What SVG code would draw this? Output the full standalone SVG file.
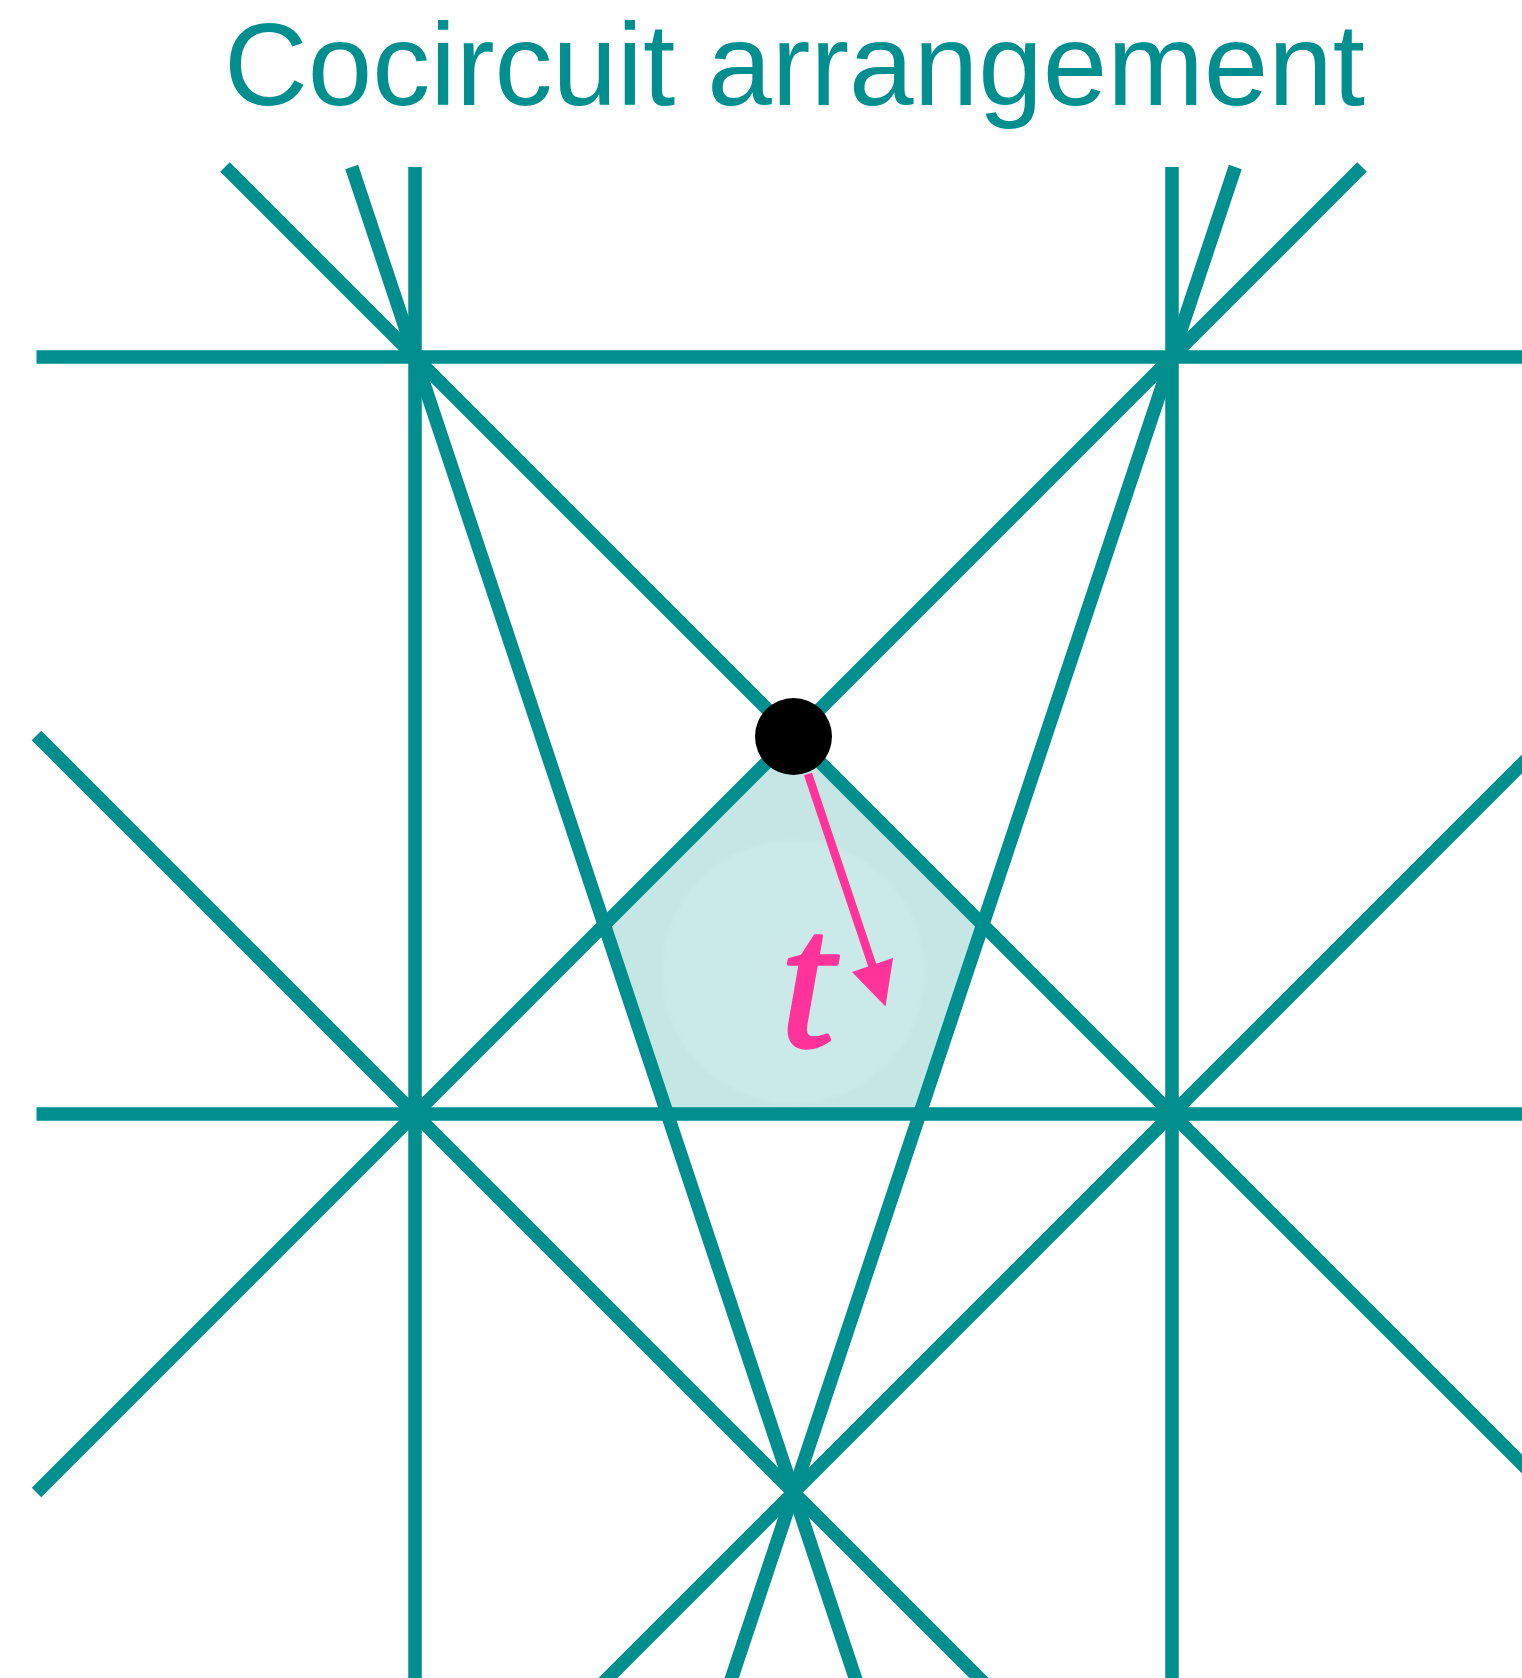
<svg xmlns="http://www.w3.org/2000/svg" width="1522" height="1678" viewBox="0 0 1522 1678">
<style>
.ln{stroke:#008e8e;stroke-width:13.5;fill:none;stroke-linecap:butt}
.title{font-family:"Liberation Sans",Arial,sans-serif;font-size:116px;fill:#008e8e}
.lbl{font-family:"Liberation Serif","Times New Roman",serif;font-style:italic;font-size:196px;fill:#ff3399;stroke:#ff3399;stroke-width:3.5;stroke-linejoin:round}
</style>
<defs>
<radialGradient id="glow" cx="793.5" cy="972" r="134" gradientUnits="userSpaceOnUse">
<stop offset="0" stop-color="#cbe9e9"/>
<stop offset="0.96" stop-color="#cae9e9"/>
<stop offset="1" stop-color="#c6e6e6"/>
</radialGradient>
</defs>
<rect width="1522" height="1678" fill="#ffffff"/>
<g id="title"><text class="title" x="794.5" y="105" text-anchor="middle">Cocircuit arrangement</text></g>
<g id="region"><polygon points="793.5,735.5 982.75,924.75 919.7,1114 667.3,1114 604.25,924.75" fill="url(#glow)"/></g>
<g id="connectors">
<line class="ln" x1="415" y1="167" x2="415" y2="1690"/>
<line class="ln" x1="1172" y1="167" x2="1172" y2="1690"/>
<line class="ln" x1="36.5" y1="357" x2="1530" y2="357"/>
<line class="ln" x1="36.5" y1="1114" x2="1530" y2="1114"/>
<line class="ln" x1="225" y1="167" x2="1540" y2="1482"/>
<line class="ln" x1="1362" y1="167" x2="36.5" y2="1492.5"/>
<line class="ln" x1="36.5" y1="735.5" x2="991" y2="1690"/>
<line class="ln" x1="1540" y1="746" x2="596" y2="1690"/>
<line class="ln" x1="351.7" y1="167" x2="859.3" y2="1690"/>
<line class="ln" x1="1235.3" y1="167" x2="727.7" y2="1690"/>
</g>
<g id="vertex"><circle cx="793.5" cy="736.5" r="38.5" fill="#000000"/></g>
<g id="arrow">
<line x1="808" y1="774" x2="872.5" y2="966" stroke="#ff3399" stroke-width="8.5"/>
<polygon points="885.5,1006.5 852,972 893,958" fill="#ff3399"/>
</g>
<g id="label"><text class="lbl" x="780" y="1046">t</text></g>
</svg>
